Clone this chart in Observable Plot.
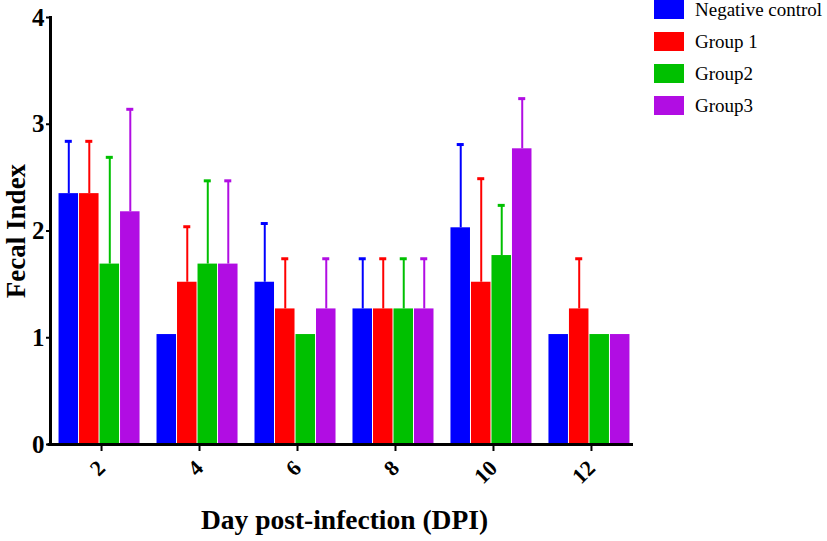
<!DOCTYPE html>
<html>
<head>
<meta charset="utf-8">
<script src="https://cdn.jsdelivr.net/npm/d3@7"></script>
<script src="https://cdn.jsdelivr.net/npm/@observablehq/plot@0.6"></script>
<style>
  body { margin: 0; background: #fff; }
  #wrap { position: relative; width: 827px; height: 541px; }
  #legend { position: absolute; left: 654px; top: 0; font-family: "Liberation Serif", "Times New Roman", serif; font-size: 19px; color: #000; }
  .row { position: absolute; left: 0; height: 19px; display: flex; align-items: center; white-space: nowrap; }
  .sw { width: 30px; height: 19px; margin-right: 11px; flex: none; }
</style>
</head>
<body>
<div id="wrap"><div id="chart"></div><div id="legend"></div></div>
<script>
const days = [2, 4, 6, 8, 10, 12];
const groups = ["Negative control", "Group 1", "Group2", "Group3"];
const colors = ["#0000ff", "#ff0000", "#00c000", "#b10de3"];
const yTicks = [0, 1, 2, 3, 4];

const meanNC = [2.35, 1.03, 1.52, 1.27, 2.03, 1.03];
const meanG1 = [2.35, 1.52, 1.27, 1.27, 1.52, 1.27];
const meanG2 = [1.69, 1.69, 1.03, 1.27, 1.77, 1.03];
const meanG3 = [2.18, 1.69, 1.27, 1.27, 2.77, 1.03];

const sdNC = [0.49, 0, 0.55, 0.47, 0.78, 0];
const sdG1 = [0.49, 0.52, 0.47, 0.47, 0.97, 0.47];
const sdG2 = [1.00, 0.78, 0, 0.47, 0.47, 0];
const sdG3 = [0.96, 0.78, 0.47, 0.47, 0.47, 0];

const means = [meanNC, meanG1, meanG2, meanG3];
const sds = [sdNC, sdG1, sdG2, sdG3];

const rows = [];
groups.forEach((g, gi) => days.forEach((d, di) => rows.push({day: d, group: g, gi, mean: means[gi][di], sd: sds[gi][di]})));

const bandW = 82, sub = bandW / 4;
const marks = [];
groups.forEach((g, gi) => {
  const data = rows.filter(r => r.gi === gi);
  const err = data.filter(r => r.sd > 0);
  const c = gi * sub + sub / 2;
  marks.push(Plot.barY(data, {x: "day", y: "mean", fill: colors[gi], insetLeft: gi * sub + 0.5, insetRight: (3 - gi) * sub + 0.5}));
  marks.push(Plot.ruleX(err, {x: "day", y1: "mean", y2: d => d.mean + d.sd, stroke: colors[gi], strokeWidth: 2, dx: c - bandW / 2}));
  marks.push(Plot.tickY(err, {x: "day", y: d => d.mean + d.sd, stroke: colors[gi], strokeWidth: 3, insetLeft: c - 3.5, insetRight: bandW - c - 3.5}));
});

const chart = Plot.plot({
  width: 827,
  height: 541,
  marginLeft: 50,
  marginRight: 189,
  marginTop: 17,
  marginBottom: 97,
  style: {fontFamily: "'Liberation Serif', 'Times New Roman', serif", background: "#fff", color: "#000"},
  x: {type: "band", domain: days, paddingInner: 0.163, paddingOuter: 0.082, round: false},
  y: {domain: [0, 4]},
  marks: [
    ...marks,
    Plot.ruleY([0], {strokeWidth: 3, insetLeft: -2.5, insetRight: 5}),
    Plot.frame({anchor: "left", strokeWidth: 3}),
    Plot.axisY({ticks: yTicks, tickFormat: d3.format("d"), tickSize: 4, tickPadding: 2, strokeWidth: 2, fontSize: 25, fontWeight: "bold", label: null}),
    Plot.axisX({tickSize: 7, tickPadding: 13, dx: 2, tickRotate: -45, strokeWidth: 2, fontSize: 22, fontWeight: "bold", label: null}),
    Plot.text(["Fecal Index"], {frameAnchor: "left", textAnchor: "middle", dx: -34, rotate: -90, fontSize: 27, fontWeight: "bold"}),
    Plot.text(["Day post-infection (DPI)"], {frameAnchor: "bottom", dy: 84, fontSize: 27.5, fontWeight: "bold"})
  ]
});
document.getElementById("chart").appendChild(chart);

const legend = document.getElementById("legend");
groups.forEach((g, gi) => {
  const row = document.createElement("div");
  row.className = "row";
  row.style.top = (gi * 32) + "px";
  const sw = document.createElement("div");
  sw.className = "sw";
  sw.style.background = colors[gi];
  const t = document.createElement("span");
  t.textContent = g;
  row.appendChild(sw);
  row.appendChild(t);
  legend.appendChild(row);
});
</script>
</body>
</html>
